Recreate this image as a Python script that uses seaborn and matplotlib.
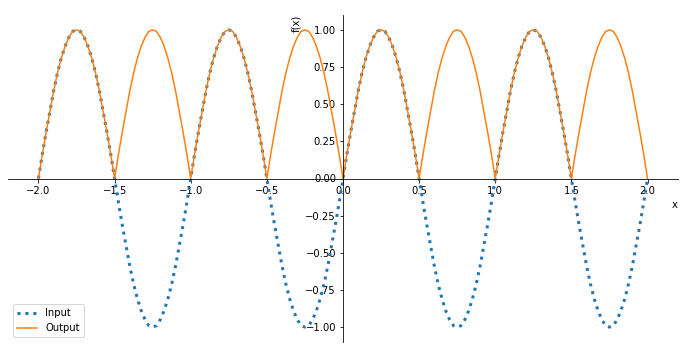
import numpy as np
import pandas as pd
import matplotlib
matplotlib.use("Agg")
import matplotlib.pyplot as plt
import seaborn as sns

# x grid from -2 to 2 in steps of 0.025
x_values = np.linspace(-2.0, 2.0, 161)

input_values = [
    0, .16, .31, .45, .59, .71, .81, .89, .95, .99, 1, .99, .95, .89, .81, .71, .59, .45, .31, .16,
    0, -.16, -.31, -.45, -.59, -.71, -.81, -.89, -.95, -.99, -1, -.99, -.95, -.89, -.81, -.71, -.59, -.45, -.31, -.16,
    0, .16, .31, .45, .59, .71, .81, .89, .95, .99, 1, .99, .95, .89, .81, .71, .59, .45, .31, .16,
    0, -.16, -.31, -.45, -.59, -.71, -.81, -.89, -.95, -.99, -1, -.99, -.95, -.89, -.81, -.71, -.59, -.45, -.31, -.16,
    0, .16, .31, .45, .59, .71, .81, .89, .95, .99, 1, .99, .95, .89, .81, .71, .59, .45, .31, .16,
    0, -.16, -.31, -.45, -.59, -.71, -.81, -.89, -.95, -.99, -1, -.99, -.95, -.89, -.81, -.71, -.59, -.45, -.31, -.16,
    0, .16, .31, .45, .59, .71, .81, .89, .95, .99, 1, .99, .95, .89, .81, .71, .59, .45, .31, .16,
    0, -.16, -.31, -.45, -.59, -.71, -.81, -.89, -.95, -.99, -1, -.99, -.95, -.89, -.81, -.71, -.59, -.45, -.31, -.16,
    0,
]

output_values = [
    0, .16, .31, .45, .59, .71, .81, .89, .95, .99, 1, .99, .95, .89, .81, .71, .59, .45, .31, .16,
    0, .16, .31, .45, .59, .71, .81, .89, .95, .99, 1, .99, .95, .89, .81, .71, .59, .45, .31, .16,
    0, .16, .31, .45, .59, .71, .81, .89, .95, .99, 1, .99, .95, .89, .81, .71, .59, .45, .31, .16,
    0, .16, .31, .45, .59, .71, .81, .89, .95, .99, 1, .99, .95, .89, .81, .71, .59, .45, .31, .16,
    0, .16, .31, .45, .59, .71, .81, .89, .95, .99, 1, .99, .95, .89, .81, .71, .59, .45, .31, .16,
    0, .16, .31, .45, .59, .71, .81, .89, .95, .99, 1, .99, .95, .89, .81, .71, .59, .45, .31, .16,
    0, .16, .31, .45, .59, .71, .81, .89, .95, .99, 1, .99, .95, .89, .81, .71, .59, .45, .31, .16,
    0, .16, .31, .45, .59, .71, .81, .89, .95, .99, 1, .99, .95, .89, .81, .71, .59, .45, .31, .16,
    0,
]

series_labels = ["Input", "Output"]

df = pd.DataFrame({"x": x_values, "Input": input_values, "Output": output_values})

fig = plt.figure(figsize=(686 / 72, 349 / 72), dpi=72)
ax = fig.add_axes([8 / 686, 7 / 349, 670 / 686, 327 / 349])

sns.lineplot(data=df, x="x", y="Input", ax=ax, color="#1f77b4", linestyle=":",
             linewidth=3, label=series_labels[0], sort=False)
sns.lineplot(data=df, x="x", y="Output", ax=ax, color="#ff7f0e", linewidth=1.5,
             label=series_labels[1], sort=False)

ax.spines["left"].set_position("zero")
ax.spines["bottom"].set_position("zero")
ax.spines["top"].set_visible(False)
ax.spines["right"].set_visible(False)

ax.set_xlabel("x", loc="right")
ax.set_ylabel("f(x)", loc="top")
ax.legend(loc="lower left")

fig.savefig("out.png", dpi=72)
